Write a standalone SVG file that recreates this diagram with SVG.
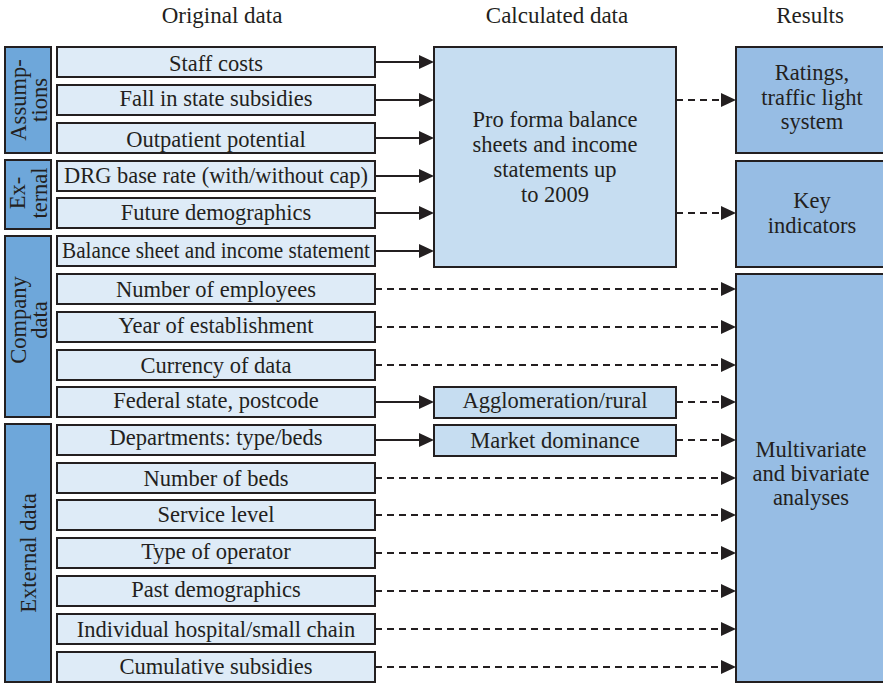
<svg xmlns="http://www.w3.org/2000/svg" width="883" height="683" viewBox="0 0 883 683">
<style>
text{font-family:"Liberation Serif","Times New Roman",serif;fill:#231f20;font-size:22.5px;text-anchor:middle}
.hd{font-size:23px}
.grp{fill:#6ea7da;stroke:#231f20;stroke-width:2}
.in{fill:#deebf7;stroke:#231f20;stroke-width:2}
.calc{fill:#c6ddf1;stroke:#231f20;stroke-width:2}
.res{fill:#97bde4;stroke:#231f20;stroke-width:2}
.s{stroke:#231f20;stroke-width:2;fill:none;marker-end:url(#ah)}
.d{stroke:#231f20;stroke-width:2;fill:none;stroke-dasharray:7 5;marker-end:url(#ah)}
</style>
<defs>
<marker id="ah" viewBox="0 0 15 14" refX="0" refY="7" markerWidth="15" markerHeight="14" markerUnits="userSpaceOnUse" orient="auto">
<path d="M0,0 L15,7 L0,14 z" fill="#231f20"/>
</marker>
</defs>
<g id="headers">
<text class="hd" x="222" y="23">Original data</text>
<text class="hd" x="557" y="23">Calculated data</text>
<text class="hd" x="810" y="23">Results</text>
</g>
<g id="grp-assumptions"><rect class="grp" x="5" y="47" width="46" height="106"/><text transform="translate(26,100) rotate(-90)">Assump-</text><text transform="translate(47,100) rotate(-90)">tions</text></g>
<g id="grp-external"><rect class="grp" x="5" y="160" width="46" height="69"/><text transform="translate(25,193) rotate(-90)">Ex-</text><text transform="translate(47,193) rotate(-90)">ternal</text></g>
<g id="grp-company"><rect class="grp" x="5" y="236" width="46" height="181"/><text transform="translate(26,320) rotate(-90)">Company</text><text transform="translate(47,320) rotate(-90)">data</text></g>
<g id="grp-externaldata"><rect class="grp" x="5" y="424" width="46" height="258"/><text transform="translate(36,553) rotate(-90)">External data</text></g>

<g id="in1"><rect class="in" x="57" y="47" width="318" height="30"/><text x="216" y="71">Staff costs</text></g>
<g id="in2"><rect class="in" x="57" y="85" width="318" height="30"/><text x="216" y="106">Fall in state subsidies</text></g>
<g id="in3"><rect class="in" x="57" y="123" width="318" height="30"/><text x="216" y="147">Outpatient potential</text></g>
<g id="in4"><rect class="in" x="57" y="161" width="318" height="30"/><text x="216" y="183" textLength="304" lengthAdjust="spacingAndGlyphs">DRG base rate (with/without cap)</text></g>
<g id="in5"><rect class="in" x="57" y="198" width="318" height="30"/><text x="216" y="220">Future demographics</text></g>
<g id="in6"><rect class="in" x="57" y="236" width="318" height="30"/><text x="216" y="258" textLength="308" lengthAdjust="spacingAndGlyphs">Balance sheet and income statement</text></g>
<g id="in7"><rect class="in" x="57" y="274" width="318" height="30"/><text x="216" y="297">Number of employees</text></g>
<g id="in8"><rect class="in" x="57" y="312" width="318" height="30"/><text x="216" y="333">Year of establishment</text></g>
<g id="in9"><rect class="in" x="57" y="350" width="318" height="30"/><text x="216" y="373">Currency of data</text></g>
<g id="in10"><rect class="in" x="57" y="387" width="318" height="30"/><text x="216" y="408">Federal state, postcode</text></g>
<g id="in11"><rect class="in" x="57" y="425" width="318" height="30"/><text x="216" y="445">Departments: type/beds</text></g>
<g id="in12"><rect class="in" x="57" y="463" width="318" height="30"/><text x="216" y="486">Number of beds</text></g>
<g id="in13"><rect class="in" x="57" y="500" width="318" height="30"/><text x="216" y="522">Service level</text></g>
<g id="in14"><rect class="in" x="57" y="538" width="318" height="30"/><text x="216" y="559">Type of operator</text></g>
<g id="in15"><rect class="in" x="57" y="576" width="318" height="30"/><text x="216" y="597">Past demographics</text></g>
<g id="in16"><rect class="in" x="57" y="614" width="318" height="30"/><text x="216" y="637">Individual hospital/small chain</text></g>
<g id="in17"><rect class="in" x="57" y="652" width="318" height="30"/><text x="216" y="674">Cumulative subsidies</text></g>

<g id="proforma"><rect class="calc" x="434" y="47" width="242" height="220"/>
<text x="555" y="127">Pro forma balance</text><text x="555" y="152">sheets and income</text><text x="555" y="177">statements up</text><text x="555" y="202">to 2009</text></g>
<g id="agglomeration"><rect class="calc" x="434" y="387" width="242" height="31"/><text x="555" y="408">Agglomeration/rural</text></g>
<g id="market"><rect class="calc" x="434" y="425" width="242" height="31"/><text x="555" y="448">Market dominance</text></g>

<g id="ratings"><rect class="res" x="736" y="47" width="152" height="106"/><text x="812" y="80">Ratings,</text><text x="812" y="105">traffic light</text><text x="812" y="129">system</text></g>
<g id="keyind"><rect class="res" x="736" y="161" width="152" height="106"/><text x="812" y="208">Key</text><text x="812" y="233">indicators</text></g>
<g id="multivariate"><rect class="res" x="736" y="274" width="152" height="408"/><text x="811" y="457">Multivariate</text><text x="811" y="481">and bivariate</text><text x="811" y="505">analyses</text></g>

<g id="connectors">
<line class="s" x1="375" y1="62" x2="419" y2="62"/>
<line class="s" x1="375" y1="100" x2="419" y2="100"/>
<line class="s" x1="375" y1="138" x2="419" y2="138"/>
<line class="s" x1="375" y1="176" x2="419" y2="176"/>
<line class="s" x1="375" y1="213" x2="419" y2="213"/>
<line class="s" x1="375" y1="251" x2="419" y2="251"/>
<line class="s" x1="375" y1="402" x2="419" y2="402"/>
<line class="s" x1="375" y1="440" x2="419" y2="440"/>
<line class="d" x1="676" y1="100" x2="721" y2="100"/>
<line class="d" x1="676" y1="213" x2="721" y2="213"/>
<line class="d" x1="676" y1="402" x2="721" y2="402"/>
<line class="d" x1="676" y1="440" x2="721" y2="440"/>
<line class="d" x1="375" y1="289" x2="721" y2="289"/>
<line class="d" x1="375" y1="327" x2="721" y2="327"/>
<line class="d" x1="375" y1="365" x2="721" y2="365"/>
<line class="d" x1="375" y1="478" x2="721" y2="478"/>
<line class="d" x1="375" y1="515" x2="721" y2="515"/>
<line class="d" x1="375" y1="553" x2="721" y2="553"/>
<line class="d" x1="375" y1="591" x2="721" y2="591"/>
<line class="d" x1="375" y1="629" x2="721" y2="629"/>
<line class="d" x1="375" y1="667" x2="721" y2="667"/>
</g>
</svg>
